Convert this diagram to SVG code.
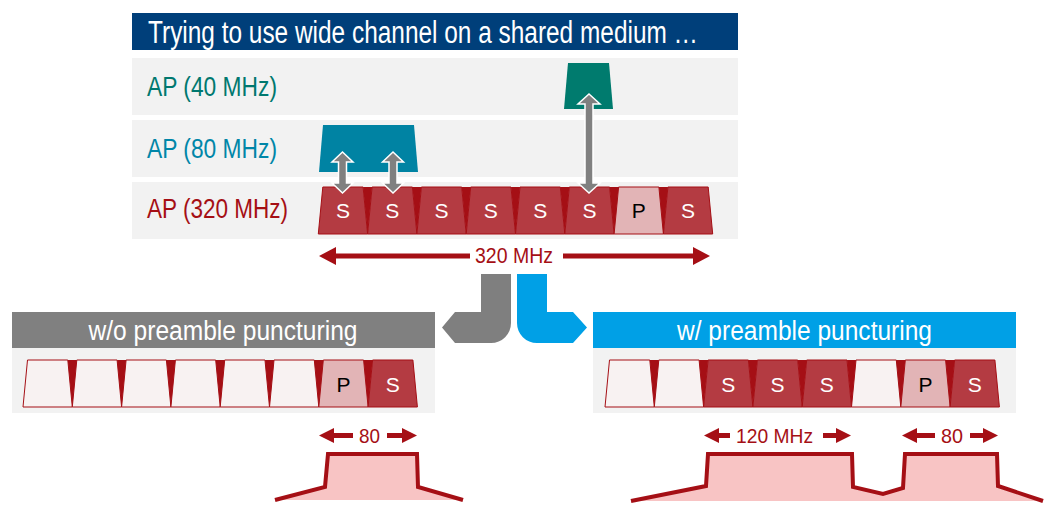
<svg xmlns="http://www.w3.org/2000/svg" xmlns:xlink="http://www.w3.org/1999/xlink" width="1054" height="522" viewBox="0 0 1054 522">
<style>
.nar{font-family:"Liberation Sans Narrow","Liberation Sans",Arial,sans-serif}
.lab{font-family:"Liberation Sans",Arial,sans-serif;font-size:21px;text-anchor:middle}
.band{fill:#f2f2f2}
.s{fill:#b43b42;stroke:#a50f15;stroke-width:1}
.p{fill:#e2b4b6;stroke:#a50f15;stroke-width:1}
.w{fill:#f8f2f2;stroke:#a50f15;stroke-width:1}
.tri{fill:#a50f15}
.dr{fill:#a50f15}
.dbl{fill:#808080;stroke:#ffffff;stroke-width:1.5}
.mask{fill:#f8c4c4}
.maskline{fill:none;stroke:#a50f15;stroke-width:4}
</style>
<defs>
<polygon id="seg" points="4.5,0 44.8,0 49.3,47 0,47"/>
<polygon id="tri" points="-4.5,0 4.5,0 0,47"/>
</defs>
<g id="title">
<rect x="132" y="13" width="606" height="37" fill="#003f7a"/>
<text class="nar" x="148" y="43" font-size="31" fill="#ffffff" textLength="550" lengthAdjust="spacingAndGlyphs">Trying to use wide channel on a shared medium …</text>
</g>
<g id="row-ap40">
<rect class="band" x="132" y="58" width="606" height="57"/>
<text class="nar" x="147" y="96" font-size="28" fill="#00786f" textLength="130" lengthAdjust="spacingAndGlyphs">AP (40 MHz)</text>
</g>
<g id="row-ap80">
<rect class="band" x="132" y="120" width="606" height="57"/>
<text class="nar" x="147" y="158" font-size="28" fill="#0086a8" textLength="130" lengthAdjust="spacingAndGlyphs">AP (80 MHz)</text>
</g>
<g id="row-ap320">
<rect class="band" x="132" y="182" width="606" height="57"/>
<text class="nar" x="147" y="218" font-size="28" fill="#a50f15" textLength="141" lengthAdjust="spacingAndGlyphs">AP (320 MHz)</text>
</g>
<g id="ap40-block">
<polygon points="568,63 609,63 613,109 564,109" fill="#007b6e"/>
</g>
<g id="ap80-block">
<polygon points="323,125 414,125 418,172 319,172" fill="#0083a3"/>
</g>
<g id="ap320-channel" transform="translate(318.3,187)">
<use xlink:href="#seg" class="s" x="0"/>
<use xlink:href="#seg" class="s" x="49.3"/>
<use xlink:href="#seg" class="s" x="98.6"/>
<use xlink:href="#seg" class="s" x="147.9"/>
<use xlink:href="#seg" class="s" x="197.2"/>
<use xlink:href="#seg" class="s" x="246.5"/>
<use xlink:href="#seg" class="p" x="295.8"/>
<use xlink:href="#seg" class="s" x="345.1"/>
<use xlink:href="#tri" class="tri" x="49.3"/>
<use xlink:href="#tri" class="tri" x="98.6"/>
<use xlink:href="#tri" class="tri" x="147.9"/>
<use xlink:href="#tri" class="tri" x="197.2"/>
<use xlink:href="#tri" class="tri" x="246.5"/>
<use xlink:href="#tri" class="tri" x="295.8"/>
<use xlink:href="#tri" class="tri" x="345.1"/>
<text class="lab" x="24.65" y="31" fill="#ffffff">S</text>
<text class="lab" x="73.95" y="31" fill="#ffffff">S</text>
<text class="lab" x="123.25" y="31" fill="#ffffff">S</text>
<text class="lab" x="172.55" y="31" fill="#ffffff">S</text>
<text class="lab" x="221.85" y="31" fill="#ffffff">S</text>
<text class="lab" x="271.15" y="31" fill="#ffffff">S</text>
<text class="lab" x="320.45" y="31" fill="#000000">P</text>
<text class="lab" x="369.75" y="31" fill="#ffffff">S</text>
</g>
<g id="connectors">
<polygon class="dbl" points="342.5,152 353,162 346.5,162 346.5,183 353,183 342.5,193 332,183 338.5,183 338.5,162 332,162"/>
<polygon class="dbl" points="393,152 403.5,162 397,162 397,183 403.5,183 393,193 382.5,183 389,183 389,162 382.5,162"/>
<polygon class="dbl" points="589,94 600,104 593,104 593,183 600,183 589,193 578,183 585,183 585,104 578,104"/>
<path d="M481,274 H511 V323 A20,20 0 0 1 491,343 H455 L442,327.5 L455,312 H481 Z" fill="#7f7f7f"/>
<path d="M517,274 H547 V312 H573 L587,327.5 L573,343 H537 A20,20 0 0 1 517,323 Z" fill="#00a0e6"/>
</g>
<g id="span-320">
<polygon class="dr" points="319,256 336,247 336,265"/>
<rect class="dr" x="335" y="253.5" width="135" height="5"/>
<rect class="dr" x="563" y="253.5" width="131" height="5"/>
<polygon class="dr" points="710,256 693,247 693,265"/>
<text class="nar" x="514" y="263" font-size="22" fill="#a50f15" text-anchor="middle" textLength="78" lengthAdjust="spacingAndGlyphs">320 MHz</text>
</g>
<g id="panel-without">
<rect x="12" y="312" width="423" height="36" fill="#808080"/>
<rect class="band" x="12" y="348" width="423" height="65"/>
<text class="nar" x="223" y="340" font-size="27" fill="#ffffff" text-anchor="middle" textLength="269" lengthAdjust="spacingAndGlyphs">w/o preamble puncturing</text>
<g transform="translate(23,360)">
<use xlink:href="#seg" class="w" x="0"/>
<use xlink:href="#seg" class="w" x="49.3"/>
<use xlink:href="#seg" class="w" x="98.6"/>
<use xlink:href="#seg" class="w" x="147.9"/>
<use xlink:href="#seg" class="w" x="197.2"/>
<use xlink:href="#seg" class="w" x="246.5"/>
<use xlink:href="#seg" class="p" x="295.8"/>
<use xlink:href="#seg" class="s" x="345.1"/>
<use xlink:href="#tri" class="tri" x="49.3"/>
<use xlink:href="#tri" class="tri" x="98.6"/>
<use xlink:href="#tri" class="tri" x="147.9"/>
<use xlink:href="#tri" class="tri" x="197.2"/>
<use xlink:href="#tri" class="tri" x="246.5"/>
<use xlink:href="#tri" class="tri" x="295.8"/>
<use xlink:href="#tri" class="tri" x="345.1"/>
<text class="lab" x="320.45" y="31.5" fill="#000000">P</text>
<text class="lab" x="369.75" y="31.5" fill="#ffffff">S</text>
</g>
</g>
<g id="span-80-left">
<polygon class="dr" points="319,435.5 334,428 334,443"/>
<rect class="dr" x="333" y="433" width="20" height="5"/>
<rect class="dr" x="387" y="433" width="16" height="5"/>
<polygon class="dr" points="417,435.5 402,428 402,443"/>
<text class="nar" x="369.5" y="443" font-size="21" fill="#a50f15" text-anchor="middle" textLength="21" lengthAdjust="spacingAndGlyphs">80</text>
</g>
<g id="mask-left">
<polygon class="mask" points="275,500 325,487 328,454 417,454 418,487 463,500"/>
<polyline class="maskline" points="275,500 325,487 328,454 417,454 418,487 463,500"/>
</g>
<g id="panel-with">
<rect x="593" y="312" width="423" height="36" fill="#00a0e6"/>
<rect class="band" x="593" y="348" width="423" height="65"/>
<text class="nar" x="804.5" y="340" font-size="27" fill="#ffffff" text-anchor="middle" textLength="255" lengthAdjust="spacingAndGlyphs">w/ preamble puncturing</text>
<g transform="translate(605,360)">
<use xlink:href="#seg" class="w" x="0"/>
<use xlink:href="#seg" class="w" x="49.3"/>
<use xlink:href="#seg" class="s" x="98.6"/>
<use xlink:href="#seg" class="s" x="147.9"/>
<use xlink:href="#seg" class="s" x="197.2"/>
<use xlink:href="#seg" class="w" x="246.5"/>
<use xlink:href="#seg" class="p" x="295.8"/>
<use xlink:href="#seg" class="s" x="345.1"/>
<use xlink:href="#tri" class="tri" x="49.3"/>
<use xlink:href="#tri" class="tri" x="98.6"/>
<use xlink:href="#tri" class="tri" x="147.9"/>
<use xlink:href="#tri" class="tri" x="197.2"/>
<use xlink:href="#tri" class="tri" x="246.5"/>
<use xlink:href="#tri" class="tri" x="295.8"/>
<use xlink:href="#tri" class="tri" x="345.1"/>
<text class="lab" x="123.25" y="31.5" fill="#ffffff">S</text>
<text class="lab" x="172.55" y="31.5" fill="#ffffff">S</text>
<text class="lab" x="221.85" y="31.5" fill="#ffffff">S</text>
<text class="lab" x="320.45" y="31.5" fill="#000000">P</text>
<text class="lab" x="369.75" y="31.5" fill="#ffffff">S</text>
</g>
</g>
<g id="span-120">
<polygon class="dr" points="704,435.5 719,428 719,443"/>
<rect class="dr" x="718" y="433" width="12" height="5"/>
<rect class="dr" x="823" y="433" width="14" height="5"/>
<polygon class="dr" points="851,435.5 836,428 836,443"/>
<text class="nar" x="774.5" y="443" font-size="21" fill="#a50f15" text-anchor="middle" textLength="77" lengthAdjust="spacingAndGlyphs">120 MHz</text>
</g>
<g id="span-80-right">
<polygon class="dr" points="902,435.5 917,428 917,443"/>
<rect class="dr" x="916" y="433" width="19" height="5"/>
<rect class="dr" x="970" y="433" width="14" height="5"/>
<polygon class="dr" points="998,435.5 983,428 983,443"/>
<text class="nar" x="952" y="443" font-size="21" fill="#a50f15" text-anchor="middle" textLength="22" lengthAdjust="spacingAndGlyphs">80</text>
</g>
<g id="mask-right">
<polygon class="mask" points="631,501 706,486 708,454 852,454 853,487 883,494 903,488 905,454 997,454 998,486 1043,501"/>
<polyline class="maskline" points="631,501 706,486 708,454 852,454 853,487 883,494 903,488 905,454 997,454 998,486 1043,501"/>
</g>
</svg>
